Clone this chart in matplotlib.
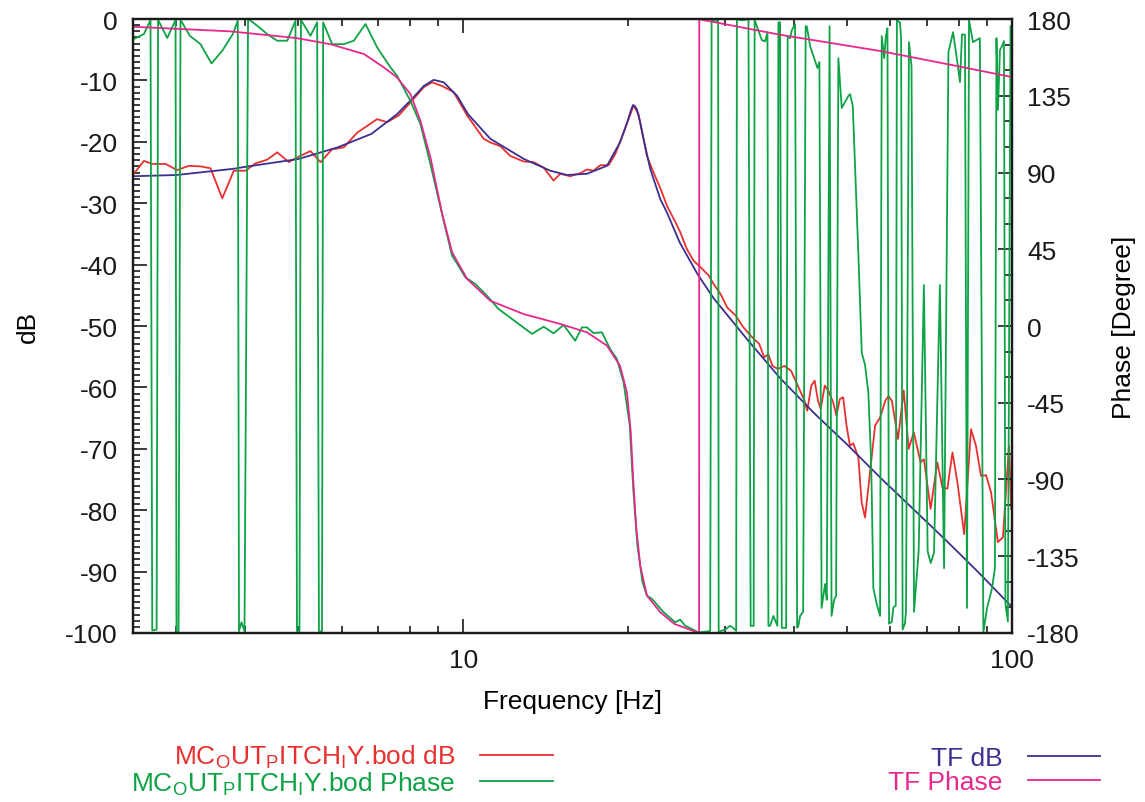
import matplotlib
matplotlib.use("Agg")
import matplotlib.pyplot as plt
from matplotlib.ticker import MultipleLocator, FixedLocator, FixedFormatter, NullFormatter

plt.rcParams['font.family'] = ['Liberation Sans', 'DejaVu Sans']
plt.rcParams['font.size'] = 19
plt.rcParams['axes.unicode_minus'] = False
plt.rcParams['mathtext.fontset'] = 'custom'
plt.rcParams['mathtext.rm'] = 'Liberation Sans'
plt.rcParams['mathtext.it'] = 'Liberation Sans:italic'

# measured magnitude (dB)
f_meas_db = [2.508, 2.617, 2.71, 2.866, 3.009, 3.051, 3.159, 3.318, 3.461, 3.635, 3.816, 4.008,
             4.18, 4.39, 4.578, 4.807, 5.012, 5.264, 5.489, 5.766, 6.053, 6.405, 6.679, 6.964,
             7.261, 7.624, 8.007, 8.467, 8.77, 9.145, 9.601, 10.16, 10.89, 11.2, 11.68, 12.18,
             12.88, 13.43, 14.01, 14.6, 15.02, 15.66, 16.34, 16.8, 17.27, 17.77, 18.4, 18.92,
             19.59, 20.0, 20.43, 20.86, 21.3, 21.61, 22.22, 22.85, 23.53, 24.33, 24.85, 25.56,
             26.3, 27.05, 28.02, 28.61, 29.44, 30.28, 31.37, 32.26, 33.18, 34.13, 34.61, 35.36,
             35.95, 36.61, 37.41, 38.47, 39.57, 40.7, 41.88, 42.35, 43.08, 43.69, 44.31, 44.82,
             45.58, 46.23, 47.21, 47.87, 48.56, 49.24, 49.94, 50.66, 51.36, 52.48, 53.21, 53.98,
             55.12, 56.31, 57.51, 58.75, 59.57, 60.42, 61.99, 63.49, 64.83, 66.24, 68.13, 69.11,
             71.08, 73.1, 74.68, 76.26, 77.91, 79.56, 81.83, 84.2, 85.98, 87.8, 89.71, 91.61,
             94.26, 96.3, 98.75, 99.7]
meas_db = [-25.2, -23.1, -23.6, -23.6, -24.6, -24.4, -23.9, -24.0, -24.3, -29.2, -24.7, -24.7,
           -23.5, -22.9, -21.7, -23.3, -22.4, -21.5, -23.3, -21.2, -20.9, -18.5, -17.4, -16.3,
           -16.8, -15.7, -13.6, -11.1, -10.3, -10.9, -11.9, -15.7, -19.5, -20.1, -20.7, -22.3,
           -23.2, -23.3, -24.2, -26.3, -25.2, -25.6, -25.1, -24.5, -24.7, -23.8, -23.8, -22.0,
           -18.5, -16.3, -14.1, -15.5, -19.5, -22.3, -25.0, -27.5, -30.5, -33.0, -34.7, -37.5,
           -39.4, -40.4, -41.8, -43.2, -44.8, -47.0, -48.3, -50.0, -51.3, -52.4, -52.9, -55.1,
           -54.6, -56.5, -57.0, -56.5, -57.3, -59.7, -62.2, -63.8, -59.7, -58.9, -62.2, -63.5,
           -59.7, -60.5, -62.4, -64.6, -61.9, -61.6, -66.2, -69.5, -69.1, -71.4, -78.7, -81.2,
           -73.8, -66.2, -64.9, -62.2, -61.4, -62.2, -68.4, -60.5, -70.0, -67.3, -72.2, -71.7,
           -79.8, -72.2, -76.3, -76.5, -70.6, -75.5, -83.9, -66.8, -69.5, -74.4, -74.3, -77.1,
           -85.2, -84.4, -69.5, -79.8]

# measured phase (degree)
f_meas_ph = [2.508, 2.617, 2.69, 2.71, 2.76, 2.777, 2.886, 2.988, 3.0, 3.026, 3.051, 3.173,
             3.318, 3.475, 3.635, 3.8, 3.88, 3.9, 3.941, 3.991, 4.051, 4.08, 4.209, 4.39, 4.578,
             4.775, 4.943, 4.974, 5.027, 5.058, 5.264, 5.414, 5.455, 5.525, 5.552, 5.766, 6.053,
             6.314, 6.631, 6.964, 7.362, 7.571, 8.007, 8.352, 8.708, 9.145, 9.537, 9.67, 10.08,
             10.52, 11.04, 11.59, 13.34, 14.01, 14.6, 15.23, 15.99, 16.45, 16.8, 17.27, 17.89,
             18.52, 19.05, 19.59, 20.1, 20.4, 20.75, 21.2, 21.61, 22.07, 23.17, 24.33, 24.85,
             25.37, 26.09, 26.82,
             27.59, 28.18, 28.35, 28.77, 29.14, 29.2, 30.01, 30.64, 31.03, 31.43, 31.52, 32.19,
             33.09, 33.4, 33.82, 33.96, 35.01, 35.49, 35.84, 35.98, 36.24, 36.74, 37.36, 37.52,
             37.79, 38.06, 38.76, 39.01, 39.41, 39.7, 40.24, 40.59, 40.81, 41.1, 41.63, 42.07,
             42.27, 42.87, 43.95, 44.2, 44.57, 44.98, 45.65, 45.97, 46.51, 46.9, 47.4, 47.8,
             48.26, 48.95, 50.33, 50.69, 51.27, 51.76, 52.48, 53.24, 53.98, 54.73, 55.29, 55.52,
             55.89, 56.69, 57.49, 57.9, 58.5, 58.9, 59.3, 59.7, 60.4, 60.8, 61.4, 61.7, 62.5,
             62.8, 63.2, 63.8, 64.1, 64.9, 65.6, 66.3, 67.6, 69.1, 70.2, 71.1, 72.1, 73.9, 75.2,
             76.6, 78.1, 79.7, 80.4, 81.1, 82.1, 82.8, 83.5, 84.9, 87.4, 88.7, 90.1, 92.0, 93.1,
             93.7, 94.3, 95.1, 95.9, 96.7, 97.3, 98.3, 99.4, 100.0]
meas_ph = [168.3, 171.2, 179.5, -178.5, -178.0, 179.5, 168.9, 179.5, -179.0, -179.0, 179.5, 170.2,
           165.3, 154.0, 161.4, 171.2, 179.0, -179.0, -173.7, -179.0, 179.5, 179.5, 176.1, 171.2, 167.3,
           167.3, 179.0, -179.0, -179.0, 179.5, 170.2, 178.1, -179.0, -179.0, 178.0, 165.3, 165.3,
           167.3, 177.1, 163.4, 151.7, 146.8, 132.1, 118.4, 95.0, 65.7, 41.2, 38.3, 28.6,
           24.6, 17.8, 10.0, -4.6, -0.4, -4.3, 0.6, -8.6, -0.8, -0.8, -4.1, -3.7,
           -13.5, -19.3, -33.0, -58.0, -95.0, -128.0, -150.0, -158.1, -160.0, -167.8, -173.7, -172.2,
           -175.7, -177.7, -179.6,
           -179.3, -178.8, 179.3, 178.6, 179.3, -179.3, -178.0, -175.8, -177.0, -178.8, 179.8, 179.3,
           179.8, -175.8, -175.8, 179.5, 167.6, 166.9, 172.3, -175.8, -175.8, -170.0, -175.8, 178.1,
           178.1, -177.0, -177.0, 170.0, 168.8, 173.5, 177.0, -177.0, -175.8, -170.0, -167.6, 175.8,
           175.8, 164.1, 153.6, 151.3, 154.8, -165.3, -151.3, -160.6, 175.8, -170.0, -160.6, -158.3,
           157.1, 127.9, 134.9, 136.0, 129.0, 94.0, 42.6, -15.8, -22.8, -39.0, -74.0, -98.0,
           -153.6, -163.0, -170.0, 170.0, 157.0, 170.0, 174.6, -174.6, -173.4, -165.0, -164.0, 179.3, 178.0,
           168.8, -178.0, -174.6, -167.6, 166.5, 152.4, -167.6, -132.0, 24.0, -132.0, -139.0, -133.0, 24.0, -142.0,
           160.6, 172.3, 152.4, 143.0, 171.0, 170.8, -165.3, 179.5, 166.5, 168.8, -179.5, -165.3, -153.6, -142.0,
           168.8, 126.8, 161.8, 164.1, 167.1, -163.0, -173.2, 175.8, 173.2]

# transfer function magnitude (dB)
f_tf_db = [2.5, 3.0, 3.8, 4.05, 5.0, 5.9, 6.8, 7.57, 8.1, 8.47, 8.83, 9.21, 9.74, 10.2, 11.2,
           12.9, 14.4, 15.45, 16.8, 18.27, 19.3, 19.9, 20.2, 20.38, 20.55, 20.72, 21.0, 21.3,
           21.91, 22.85, 23.5, 24.8, 26.7, 28.6, 33.0, 37.8, 43.6, 50.2, 57.7, 66.6, 76.4, 87.5,
           99.1, 100.0]
tf_db = [-25.6, -25.4, -24.4, -24.0, -22.8, -20.9, -18.7, -15.5, -12.8, -10.9, -9.9, -10.3, -12.5,
         -15.5, -19.5, -22.8, -24.7, -25.4, -25.2, -23.9, -20.1, -16.8, -14.9, -14.0, -14.2, -14.7,
         -16.8, -19.5, -24.4, -29.3, -31.5, -36.4, -41.5, -45.5, -52.3, -58.5, -64.2, -69.4, -74.8,
         -80.1, -85.2, -90.4, -95.4, -95.6]

# transfer function phase (degree)
f_tf_ph = [2.5, 3.76, 4.95, 5.72, 6.59, 7.16, 7.57, 8.01, 8.35, 8.71, 9.15, 9.54, 10.16, 11.2,
           12.88, 15.02, 16.8, 18.27, 19.3, 19.87, 20.19, 20.4, 20.66, 21.01, 21.61, 22.85,
           24.25, 26.65, 26.9, 26.92, 37.8, 57.5, 79.3, 100.0]
tf_ph = [175.5, 172.8, 168.9, 165.3, 159.5, 151.7, 145.8, 136.0, 120.4, 98.9, 65.7, 43.2, 27.6, 14.8,
         7.0, 1.2, -3.7, -11.5, -23.3, -38.9, -62.0, -90.0, -118.0, -140.5, -158.1, -167.8,
         -174.7, -179.6, -179.9, 179.9, 170.8, 161.3, 152.5, 146.0]

c_red = '#e8312f'
c_green = '#0ea345'
c_blue = '#3d2f90'
c_pink = '#e6288c'

fig = plt.figure(figsize=(11.45, 8.03), dpi=100)
ax = fig.add_axes([0.1162, 0.2105, 0.7676, 0.7645])
ax2 = ax.twinx()

l1, = ax.plot(f_meas_db, meas_db, color=c_red, lw=1.3)
l2, = ax2.plot(f_meas_ph, meas_ph, color=c_green, lw=1.3)
l3, = ax.plot(f_tf_db, tf_db, color=c_blue, lw=1.3)
l4, = ax2.plot(f_tf_ph, tf_ph, color=c_pink, lw=1.3)

ax.set_xscale('log')
ax.set_xlim(2.5, 100)
ax.set_ylim(-100, 0)
ax2.set_ylim(-180, 180)

ax.xaxis.set_major_locator(FixedLocator([10, 100]))
ax.xaxis.set_major_formatter(FixedFormatter(['10', '100']))
ax.xaxis.set_minor_locator(FixedLocator([3, 4, 5, 6, 7, 8, 9, 20, 30, 40, 50, 60, 70, 80, 90]))
ax.xaxis.set_minor_formatter(NullFormatter())
ax.yaxis.set_major_locator(MultipleLocator(10))
ax.yaxis.set_minor_locator(MultipleLocator(1))
ax2.yaxis.set_major_locator(MultipleLocator(45))
ax2.yaxis.set_minor_locator(MultipleLocator(15))

ax.tick_params(which='both', direction='in', top=True, right=False, width=1.2, colors='#1a1a1a')
ax.tick_params(which='major', length=10)
ax.tick_params(which='minor', length=5)
ax.tick_params(axis='y', pad=11)
ax.tick_params(axis='x', pad=11)
ax2.tick_params(which='both', direction='in', width=1.2, colors='#1a1a1a')
ax2.tick_params(which='major', length=10, pad=11)
ax2.tick_params(which='minor', length=5)
for a in (ax, ax2):
    for s in a.spines.values():
        s.set_linewidth(1.6)
        s.set_color('#1a1a1a')

ax.set_xlabel('Frequency [Hz]')
ax.set_ylabel('dB')
ax2.set_ylabel('Phase [Degree]')
ax.xaxis.set_label_coords(0.5, -0.091)
ax.yaxis.set_label_coords(-0.106, 0.5)
ax2.yaxis.set_label_coords(1.1138, 0.5)

leg1 = fig.legend([l1, l2],
                  [r'MC$_\mathrm{O}$UT$_\mathrm{P}$ITCH$_\mathrm{I}$Y.bod dB',
                   r'MC$_\mathrm{O}$UT$_\mathrm{P}$ITCH$_\mathrm{I}$Y.bod Phase'],
                  loc='center right', bbox_to_anchor=(0.483, 0.040), markerfirst=False,
                  frameon=False, handlelength=2.75, handletextpad=0.95, labelspacing=-0.02,
                  borderpad=0, borderaxespad=0, labelcolor='linecolor')
leg2 = fig.legend([l3, l4], ['TF dB', 'TF Phase'],
                  loc='center right', bbox_to_anchor=(0.961, 0.040), markerfirst=False,
                  frameon=False, handlelength=2.75, handletextpad=0.95, labelspacing=0.0,
                  borderpad=0, borderaxespad=0, labelcolor='linecolor')

fig.savefig('out.png', dpi=100)
